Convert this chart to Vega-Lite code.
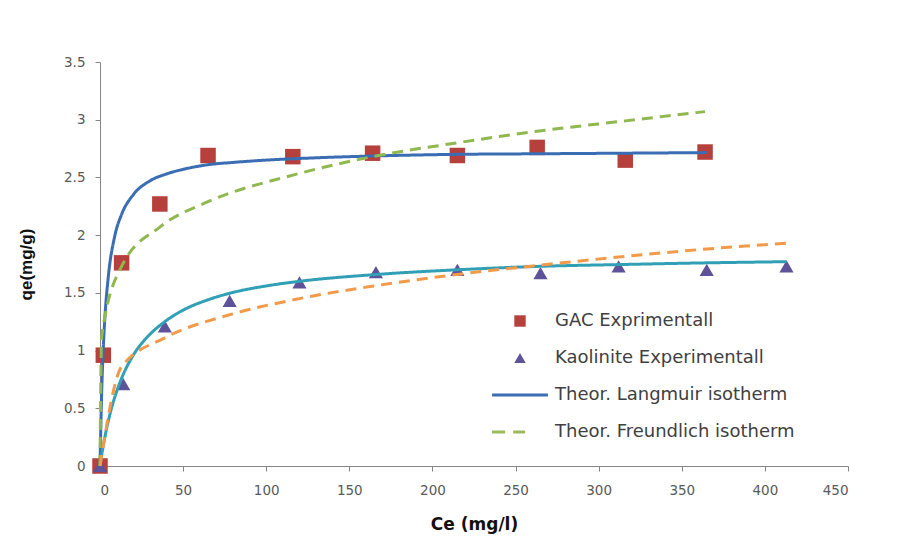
{
  "$schema": "https://vega.github.io/schema/vega-lite/v6.json",
  "autosize": {"type": "none"},
  "width": 748,
  "height": 404,
  "padding": {"left": 100, "top": 62, "right": 67, "bottom": 82},
  "background": "white",
  "config": {
    "view": {"stroke": null},
    "axis": {
      "grid": false,
      "domainColor": "#868686",
      "tickColor": "#868686",
      "tickSize": 5,
      "labelColor": "#595959",
      "labelFont": "DejaVu Sans",
      "labelFontSize": 13.5,
      "titleFontSize": 17,
      "titleFontWeight": "bold",
      "titleColor": "#111111"
    },
    "legend": {
      "orient": "none", "legendX": 411, "legendY": 250, "title": null, "padding": 0,
      "symbolSize": 130, "labelOffset": 26, "rowPadding": 19, "labelLimit": 400,
      "labelFont": "DejaVu Sans", "labelFontSize": 18, "labelColor": "#404040"
    }
  },
  "datasets": {
    "curves": [
      {"curve": "GAC Langmuir", "Ce": 0, "qe": 0},
      {"curve": "GAC Langmuir", "Ce": 1, "qe": 0.63},
      {"curve": "GAC Langmuir", "Ce": 2, "qe": 1.03},
      {"curve": "GAC Langmuir", "Ce": 3, "qe": 1.30},
      {"curve": "GAC Langmuir", "Ce": 5, "qe": 1.64},
      {"curve": "GAC Langmuir", "Ce": 9, "qe": 2.00},
      {"curve": "GAC Langmuir", "Ce": 13, "qe": 2.18},
      {"curve": "GAC Langmuir", "Ce": 20, "qe": 2.35},
      {"curve": "GAC Langmuir", "Ce": 30, "qe": 2.47},
      {"curve": "GAC Langmuir", "Ce": 40, "qe": 2.53},
      {"curve": "GAC Langmuir", "Ce": 50, "qe": 2.57},
      {"curve": "GAC Langmuir", "Ce": 65, "qe": 2.61},
      {"curve": "GAC Langmuir", "Ce": 80, "qe": 2.63},
      {"curve": "GAC Langmuir", "Ce": 100, "qe": 2.65},
      {"curve": "GAC Langmuir", "Ce": 130, "qe": 2.67},
      {"curve": "GAC Langmuir", "Ce": 165, "qe": 2.686},
      {"curve": "GAC Langmuir", "Ce": 215, "qe": 2.70},
      {"curve": "GAC Langmuir", "Ce": 265, "qe": 2.705},
      {"curve": "GAC Langmuir", "Ce": 315, "qe": 2.71},
      {"curve": "GAC Langmuir", "Ce": 365, "qe": 2.715},
      {"curve": "GAC Freundlich", "Ce": 0, "qe": 0},
      {"curve": "GAC Freundlich", "Ce": 1, "qe": 1.12},
      {"curve": "GAC Freundlich", "Ce": 13, "qe": 1.73},
      {"curve": "GAC Freundlich", "Ce": 36, "qe": 2.07},
      {"curve": "GAC Freundlich", "Ce": 65, "qe": 2.29},
      {"curve": "GAC Freundlich", "Ce": 116, "qe": 2.52},
      {"curve": "GAC Freundlich", "Ce": 164, "qe": 2.68},
      {"curve": "GAC Freundlich", "Ce": 215, "qe": 2.80},
      {"curve": "GAC Freundlich", "Ce": 263, "qe": 2.90},
      {"curve": "GAC Freundlich", "Ce": 316, "qe": 2.99},
      {"curve": "GAC Freundlich", "Ce": 364, "qe": 3.07},
      {"curve": "Kaolinite Langmuir", "Ce": 0, "qe": 0},
      {"curve": "Kaolinite Langmuir", "Ce": 1, "qe": 0.094},
      {"curve": "Kaolinite Langmuir", "Ce": 3, "qe": 0.255},
      {"curve": "Kaolinite Langmuir", "Ce": 6, "qe": 0.45},
      {"curve": "Kaolinite Langmuir", "Ce": 10, "qe": 0.645},
      {"curve": "Kaolinite Langmuir", "Ce": 13, "qe": 0.76},
      {"curve": "Kaolinite Langmuir", "Ce": 20, "qe": 0.96},
      {"curve": "Kaolinite Langmuir", "Ce": 28, "qe": 1.11},
      {"curve": "Kaolinite Langmuir", "Ce": 38, "qe": 1.24},
      {"curve": "Kaolinite Langmuir", "Ce": 50, "qe": 1.35},
      {"curve": "Kaolinite Langmuir", "Ce": 65, "qe": 1.44},
      {"curve": "Kaolinite Langmuir", "Ce": 79, "qe": 1.50},
      {"curve": "Kaolinite Langmuir", "Ce": 100, "qe": 1.56},
      {"curve": "Kaolinite Langmuir", "Ce": 120, "qe": 1.60},
      {"curve": "Kaolinite Langmuir", "Ce": 167, "qe": 1.66},
      {"curve": "Kaolinite Langmuir", "Ce": 215, "qe": 1.70},
      {"curve": "Kaolinite Langmuir", "Ce": 265, "qe": 1.73},
      {"curve": "Kaolinite Langmuir", "Ce": 312, "qe": 1.745},
      {"curve": "Kaolinite Langmuir", "Ce": 365, "qe": 1.76},
      {"curve": "Kaolinite Langmuir", "Ce": 413, "qe": 1.77},
      {"curve": "Kaolinite Freundlich", "Ce": 0, "qe": 0},
      {"curve": "Kaolinite Freundlich", "Ce": 13, "qe": 0.86},
      {"curve": "Kaolinite Freundlich", "Ce": 39, "qe": 1.11},
      {"curve": "Kaolinite Freundlich", "Ce": 78, "qe": 1.31},
      {"curve": "Kaolinite Freundlich", "Ce": 120, "qe": 1.45},
      {"curve": "Kaolinite Freundlich", "Ce": 165, "qe": 1.56},
      {"curve": "Kaolinite Freundlich", "Ce": 215, "qe": 1.66},
      {"curve": "Kaolinite Freundlich", "Ce": 265, "qe": 1.74},
      {"curve": "Kaolinite Freundlich", "Ce": 312, "qe": 1.81},
      {"curve": "Kaolinite Freundlich", "Ce": 365, "qe": 1.88},
      {"curve": "Kaolinite Freundlich", "Ce": 413, "qe": 1.93}
    ],
    "exp": [
      {"series": "GAC Exprimentall", "Ce": 0, "qe": 0},
      {"series": "GAC Exprimentall", "Ce": 2, "qe": 0.96},
      {"series": "GAC Exprimentall", "Ce": 13, "qe": 1.76},
      {"series": "GAC Exprimentall", "Ce": 36, "qe": 2.27},
      {"series": "GAC Exprimentall", "Ce": 65, "qe": 2.69},
      {"series": "GAC Exprimentall", "Ce": 116, "qe": 2.68},
      {"series": "GAC Exprimentall", "Ce": 164, "qe": 2.71},
      {"series": "GAC Exprimentall", "Ce": 215, "qe": 2.69},
      {"series": "GAC Exprimentall", "Ce": 263, "qe": 2.76},
      {"series": "GAC Exprimentall", "Ce": 316, "qe": 2.65},
      {"series": "GAC Exprimentall", "Ce": 364, "qe": 2.72},
      {"series": "Kaolinite Experimentall", "Ce": 0, "qe": 0},
      {"series": "Kaolinite Experimentall", "Ce": 14, "qe": 0.71},
      {"series": "Kaolinite Experimentall", "Ce": 39, "qe": 1.21},
      {"series": "Kaolinite Experimentall", "Ce": 78, "qe": 1.43},
      {"series": "Kaolinite Experimentall", "Ce": 120, "qe": 1.59},
      {"series": "Kaolinite Experimentall", "Ce": 166, "qe": 1.68},
      {"series": "Kaolinite Experimentall", "Ce": 215, "qe": 1.70},
      {"series": "Kaolinite Experimentall", "Ce": 265, "qe": 1.67},
      {"series": "Kaolinite Experimentall", "Ce": 312, "qe": 1.73},
      {"series": "Kaolinite Experimentall", "Ce": 365, "qe": 1.70},
      {"series": "Kaolinite Experimentall", "Ce": 413, "qe": 1.73}
    ]
  },
  "layer": [
    {
      "data": {"name": "exp"},
      "mark": {"type": "point", "filled": true, "opacity": 1},
      "encoding": {
        "x": {"field": "Ce", "type": "quantitative", "scale": {"domain": [0, 450], "nice": false},
          "axis": {"title": "Ce (mg/l)", "titleFont": "DejaVu Sans", "values": [0, 50, 100, 150, 200, 250, 300, 350, 400, 450], "labelPadding": 12, "titleY": 50, "titleBaseline": "top"}},
        "y": {"field": "qe", "type": "quantitative", "scale": {"domain": [0, 3.5], "nice": false},
          "axis": {"title": "qe(mg/g)", "titleFont": "Liberation Sans", "values": [0, 0.5, 1, 1.5, 2, 2.5, 3, 3.5], "format": "~g", "labelPadding": 10, "titleX": -65}},
        "size": {"field": "series", "type": "nominal", "scale": {"domain": ["GAC Exprimentall", "Kaolinite Experimentall"], "range": [240, 200]}, "legend": null},
        "color": {"field": "series", "type": "nominal",
          "scale": {"domain": ["GAC Exprimentall", "Kaolinite Experimentall", "Theor. Langmuir isotherm", "Theor. Freundlich isotherm"],
                    "range": ["#b5403c", "#5e5298", "#3a6db3", "#9bbb59"]}},
        "stroke": {"field": "series", "type": "nominal",
          "scale": {"domain": ["GAC Exprimentall", "Kaolinite Experimentall", "Theor. Langmuir isotherm", "Theor. Freundlich isotherm"],
                    "range": ["#b5403c", "#5e5298", "#3a6db3", "#9bbb59"]}},
        "strokeWidth": {"field": "series", "type": "nominal",
          "scale": {"type": "ordinal", "domain": ["GAC Exprimentall", "Kaolinite Experimentall", "Theor. Langmuir isotherm", "Theor. Freundlich isotherm"],
                    "range": [0, 0, 3, 3]}},
        "shape": {"field": "series", "type": "nominal",
          "scale": {"domain": ["GAC Exprimentall", "Kaolinite Experimentall", "Theor. Langmuir isotherm", "Theor. Freundlich isotherm"],
                    "range": ["square", "triangle-up", "M-4.9,0H4.9", "M-4.9,0H-2.6M-1.2,0H0.9"]}}
      }
    },
    {
      "data": {"name": "curves"},
      "mark": {"type": "line", "strokeWidth": 3, "interpolate": "monotone"},
      "encoding": {
        "x": {"field": "Ce", "type": "quantitative"},
        "y": {"field": "qe", "type": "quantitative"},
        "color": {"field": "curve", "type": "nominal",
          "scale": {"domain": ["GAC Langmuir", "GAC Freundlich", "Kaolinite Langmuir", "Kaolinite Freundlich"],
                    "range": ["#3a6db3", "#8fb84f", "#31a0b6", "#f29a4a"]},
          "legend": null},
        "strokeDash": {"field": "curve", "type": "nominal",
          "scale": {"domain": ["GAC Langmuir", "GAC Freundlich", "Kaolinite Langmuir", "Kaolinite Freundlich"],
                    "range": [[1, 0], [11, 7], [1, 0], [11, 7]]},
          "legend": null}
      }
    }
  ],
  "resolve": {"scale": {"color": "independent", "stroke": "independent", "strokeWidth": "independent", "strokeDash": "independent", "shape": "independent", "size": "independent"}}
}
